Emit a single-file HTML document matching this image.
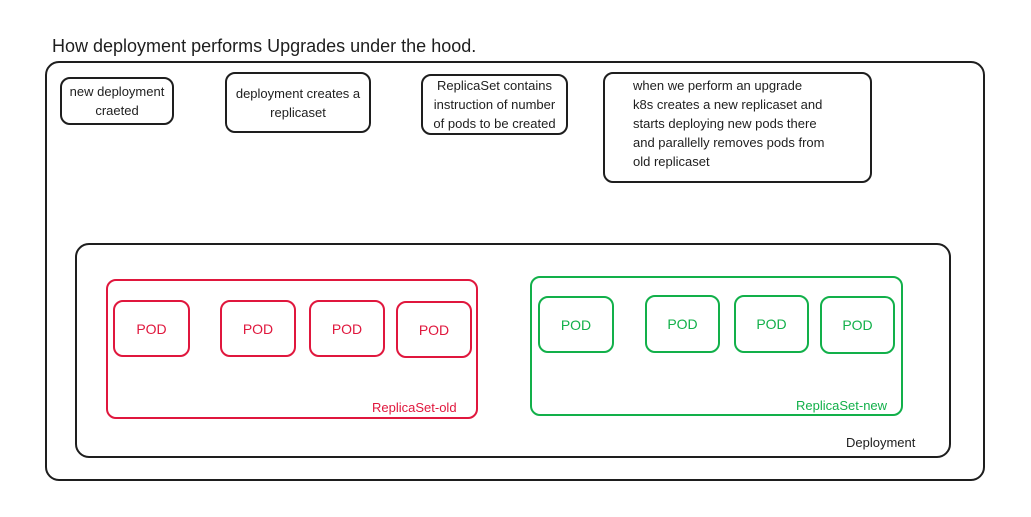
<!DOCTYPE html>
<html><head><style>
body{margin:0;width:1031px;height:517px;background:#fff;position:relative;font-family:"Liberation Sans",sans-serif;overflow:hidden}
.b{position:absolute;box-sizing:border-box;border:2px solid #1e1e1e;border-radius:10px;}
.t{position:absolute;font-size:13px;color:#1e1e1e;text-align:center;line-height:19px}
.r{border-color:#e0173d;color:#e0173d}
.g{border-color:#12b04a;color:#12b04a}
.pod{position:absolute;box-sizing:border-box;border:2px solid;border-radius:10px;display:flex;align-items:center;justify-content:center;font-size:14px}
</style></head><body>
<div class="t" style="left:52px;top:35px;font-size:18px;text-align:left;line-height:22px">How deployment performs Upgrades under the hood.</div>
<div class="b" style="left:45px;top:61px;width:940px;height:420px;border-radius:14px"></div>
<div class="b" style="left:60px;top:77px;width:114px;height:48px"></div>
<div class="t" style="left:60px;top:82px;width:114px">new deployment<br>craeted</div>
<div class="b" style="left:225px;top:72px;width:146px;height:61px"></div>
<div class="t" style="left:225px;top:84px;width:146px">deployment creates a<br>replicaset</div>
<div class="b" style="left:421px;top:74px;width:147px;height:61px"></div>
<div class="t" style="left:421px;top:76px;width:147px">ReplicaSet contains<br>instruction of number<br>of pods to be created</div>
<div class="b" style="left:603px;top:72px;width:269px;height:111px"></div>
<div class="t" style="left:633px;top:76px;text-align:left">when we perform an upgrade<br>k8s creates a new replicaset and<br>starts deploying new pods there<br>and parallelly removes pods from<br>old replicaset</div>
<div class="b" style="left:75px;top:243px;width:876px;height:215px;border-radius:14px"></div>
<div class="t" style="left:846px;top:433px">Deployment</div>
<div class="b r" style="left:106px;top:279px;width:372px;height:140px"></div>
<div class="t r" style="left:372px;top:398px;color:#e0173d">ReplicaSet-old</div>
<div class="pod r" style="left:113px;top:300px;width:77px;height:57px">POD</div>
<div class="pod r" style="left:220px;top:300px;width:76px;height:57px">POD</div>
<div class="pod r" style="left:309px;top:300px;width:76px;height:57px">POD</div>
<div class="pod r" style="left:396px;top:301px;width:76px;height:57px">POD</div>
<div class="b g" style="left:530px;top:276px;width:373px;height:140px"></div>
<div class="t g" style="left:796px;top:396px;color:#12b04a">ReplicaSet-new</div>
<div class="pod g" style="left:538px;top:296px;width:76px;height:57px">POD</div>
<div class="pod g" style="left:645px;top:295px;width:75px;height:58px">POD</div>
<div class="pod g" style="left:734px;top:295px;width:75px;height:58px">POD</div>
<div class="pod g" style="left:820px;top:296px;width:75px;height:58px">POD</div>
</body></html>
